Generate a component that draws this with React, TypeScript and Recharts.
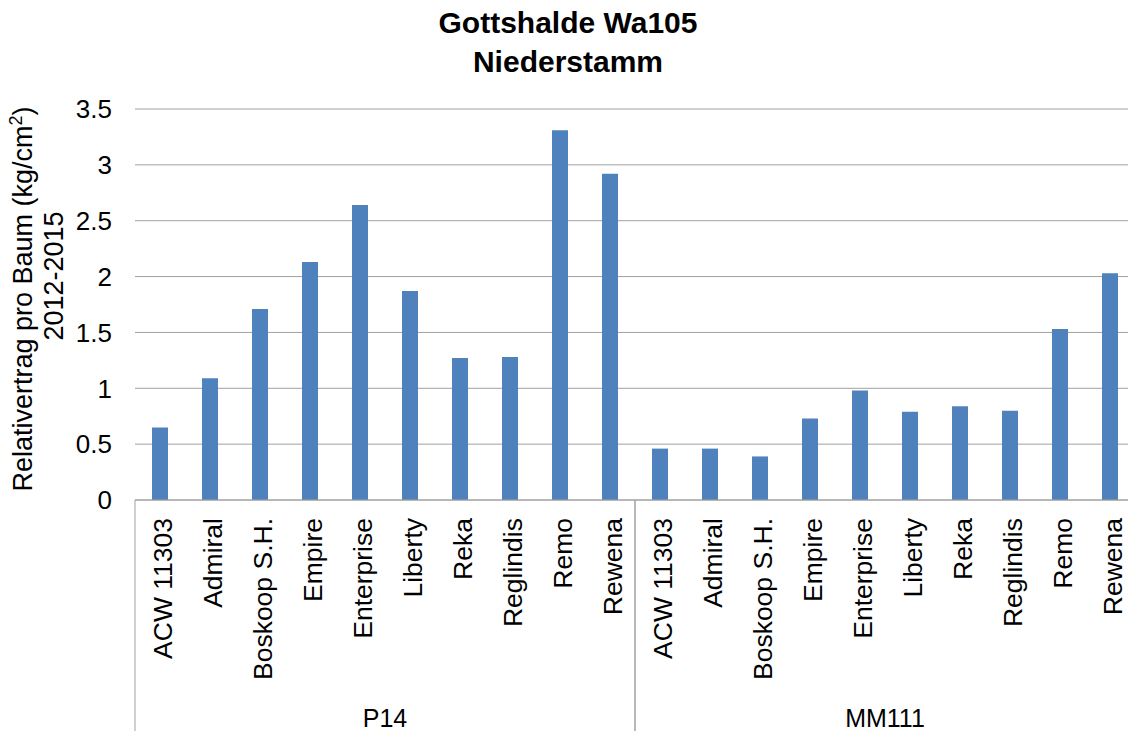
import React from "react";
import { BarChart, Bar, XAxis, YAxis, CartesianGrid } from "recharts";

const groups = ["P14", "MM111"];
const cultivars = [
  "ACW 11303",
  "Admiral",
  "Boskoop S.H.",
  "Empire",
  "Enterprise",
  "Liberty",
  "Reka",
  "Reglindis",
  "Remo",
  "Rewena",
];
const p14Values = [0.65, 1.09, 1.71, 2.13, 2.64, 1.87, 1.27, 1.28, 3.31, 2.92];
const mm111Values = [0.46, 0.46, 0.39, 0.73, 0.98, 0.79, 0.84, 0.8, 1.53, 2.03];
const yTicks = [0, 0.5, 1, 1.5, 2, 2.5, 3, 3.5];

const groupValues = [p14Values, mm111Values];
const data = groups.flatMap((g, gi) =>
  cultivars.map((c, ci) => ({ key: `${g}|${c}`, group: g, cultivar: c, value: groupValues[gi][ci] }))
);

const FONT = "'Liberation Sans', Arial, sans-serif";
const CHART_W = 1140;
const CHART_H = 731;
const MARGIN = { top: 109, right: 5, bottom: 0, left: 0 };
const Y_W = 135;
const X_H = 231;
const STEP = (CHART_W - MARGIN.left - MARGIN.right - Y_W) / data.length;
const GRID = "#a0a0a0";

function CategoryTick(props: any) {
  const { x, y, payload } = props;
  const index = props.index ?? payload.index ?? 0;
  const row = data[index];
  const pos = index % cultivars.length;
  const half = STEP / 2;
  return (
    <g>
      <text
        transform={`translate(${x + 12},${y + 18}) rotate(-90)`}
        textAnchor="end"
        fontSize={26.5}
        fontFamily={FONT}
        fill="#000"
      >
        {row ? row.cultivar : payload.value}
      </text>
      {pos === 0 && <line x1={x - half} x2={x - half} y1={y} y2={y + 240} stroke={GRID} />}
      {pos === cultivars.length - 1 && <line x1={x + half} x2={x + half} y1={y} y2={y + 240} stroke={GRID} />}
      {pos === 4 && (
        <text x={x + half} y={y + 227} textAnchor="middle" fontSize={25} fontFamily={FONT} fill="#000">
          {row ? row.group : ""}
        </text>
      )}
    </g>
  );
}

export default function App() {
  return (
    <div
      style={{
        position: "absolute",
        left: 0,
        top: 0,
        width: 1128,
        height: 731,
        overflow: "hidden",
        background: "#fff",
      }}
    >
      <BarChart width={CHART_W} height={CHART_H} data={data} margin={MARGIN}>
        <CartesianGrid vertical={false} stroke={GRID} />
        <XAxis
          dataKey="key"
          height={X_H}
          interval={0}
          tickLine={false}
          tickSize={0}
          tickMargin={0}
          axisLine={{ stroke: GRID }}
          tick={(p: any) => <CategoryTick {...p} />}
        />
        <YAxis
          width={Y_W}
          domain={[0, 3.5]}
          ticks={yTicks}
          axisLine={false}
          tickLine={false}
          tickSize={6}
          tickMargin={17}
          tick={{ fontSize: 26, fill: "#000", fontFamily: FONT }}
        />
        <Bar dataKey="value" fill="#4f81bd" barSize={16} isAnimationActive={false} />
      </BarChart>
      <svg
        width={1128}
        height={731}
        style={{ position: "absolute", left: 0, top: 0, pointerEvents: "none" }}
      >
        <text x={568} y={33} textAnchor="middle" fontSize={30} fontWeight="bold" fontFamily={FONT} fill="#000">
          Gottshalde Wa105
        </text>
        <text x={568} y={72} textAnchor="middle" fontSize={30} fontWeight="bold" fontFamily={FONT} fill="#000">
          Niederstamm
        </text>
        <text
          transform="translate(32,299) rotate(-90)"
          textAnchor="middle"
          fontSize={27}
          fontFamily={FONT}
          fill="#000"
        >
          Relativertrag pro Baum (kg/cm
          <tspan dy={-10} fontSize={18}>2</tspan>
          <tspan dy={10}>)</tspan>
        </text>
        <text
          transform="translate(63,276) rotate(-90)"
          textAnchor="middle"
          fontSize={27}
          fontFamily={FONT}
          fill="#000"
        >
          2012-2015
        </text>
      </svg>
    </div>
  );
}
